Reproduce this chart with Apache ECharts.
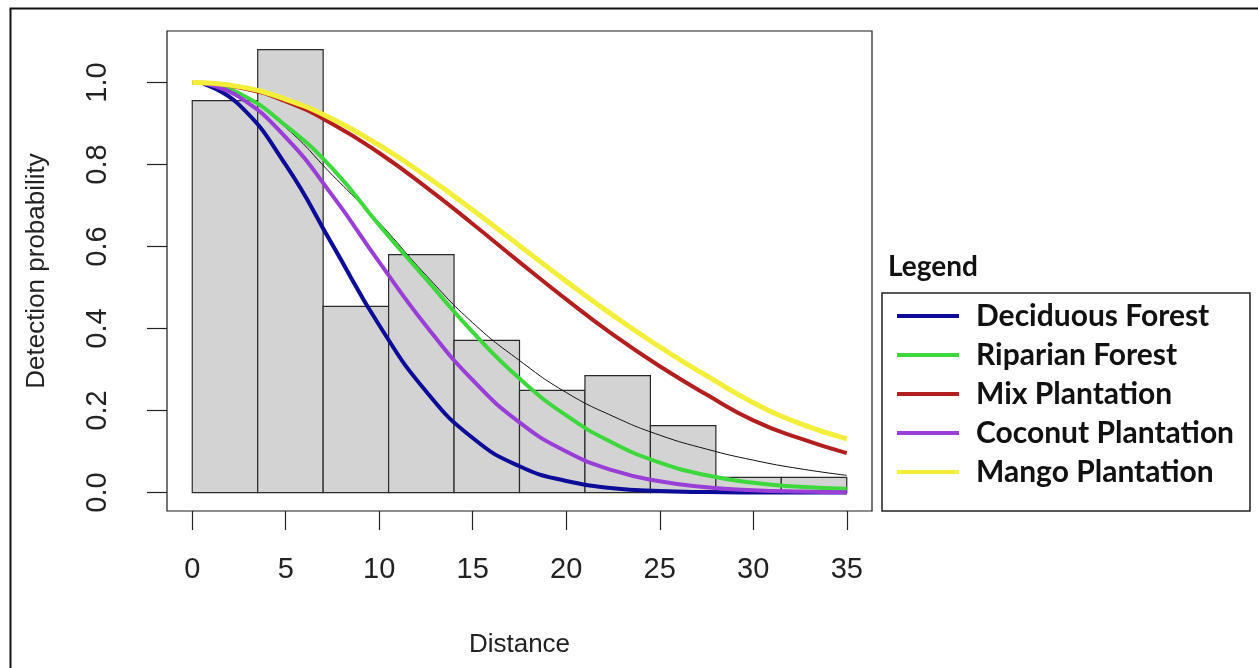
<!DOCTYPE html>
<html>
<head>
<meta charset="utf-8">
<title>Detection probability by distance</title>
<script src="https://cdn.jsdelivr.net/npm/echarts@6.0.0/dist/echarts.min.js"></script>
<style>
  html, body { margin: 0; padding: 0; background: #ffffff; }
  #chart { width: 1258px; height: 668px; }
</style>
</head>
<body>
<div id="chart"></div>
<script>
// Histogram of scaled detections (bin edges and bar heights)
const binEdges = [0, 3.5, 7, 10.5, 14, 17.5, 21, 24.5, 28, 31.5, 35];
const binHeights = [0.956, 1.08, 0.454, 0.58, 0.371, 0.249, 0.285, 0.163, 0.037, 0.037];

// Distances at which the fitted detection functions are listed
const distFromStart = [0.6, 2.5, 5, 7.5, 10, 12.5, 15, 17.5, 20, 22.5, 25, 27.5, 30, 32.5, 35];
const distFromZero = [0, 2.5, 5, 7.5, 10, 12.5, 15, 17.5, 20, 22.5, 25, 27.5, 30, 32.5, 35];

// Pooled fit (thin black line)
const pooledFit = [0.998, 0.972, 0.89, 0.774, 0.658, 0.53, 0.414, 0.322, 0.244, 0.186, 0.14, 0.106, 0.079, 0.058, 0.042];
// Habitat-specific fits
const deciduousForest = [0.997, 0.946, 0.799, 0.604, 0.408, 0.247, 0.133, 0.064, 0.028, 0.0107, 0.0037, 0.0011, 0.0003, 0.0001, 0];
const riparianForest = [0.998, 0.974, 0.895, 0.79, 0.652, 0.521, 0.391, 0.278, 0.188, 0.121, 0.073, 0.042, 0.024, 0.014, 0.009];
const mixPlantation = [1.0, 0.988, 0.954, 0.899, 0.828, 0.745, 0.655, 0.562, 0.471, 0.385, 0.308, 0.239, 0.176, 0.132, 0.096];
const coconutPlantation = [0.998, 0.965, 0.866, 0.724, 0.562, 0.407, 0.274, 0.171, 0.1, 0.054, 0.0275, 0.013, 0.0057, 0.0023, 0.0009];
const mangoPlantation = [1.0, 0.99, 0.959, 0.911, 0.847, 0.772, 0.689, 0.602, 0.515, 0.432, 0.355, 0.285, 0.219, 0.168, 0.131];

const xTicks = [0, 5, 10, 15, 20, 25, 30, 35];
const yTicks = [0, 0.2, 0.4, 0.6, 0.8, 1.0];

const habitatNames = ['Deciduous Forest', 'Riparian Forest', 'Mix Plantation', 'Coconut Plantation', 'Mango Plantation'];
const habitatColors = ['#0c0c98', '#3cd83c', '#b41e1e', '#9a3ed8', '#f2ee3a'];

function pairs(xs, ys) {
  return xs.map((x, i) => [x, ys[i]]);
}

const histData = binHeights.map((h, i) => [binEdges[i], binEdges[i + 1], h]);

const axisFont = 'Liberation Sans, Arial, sans-serif';
const legendFont = 'Lato, "Open Sans", sans-serif';

function curve(name, xs, ys, color, width, z) {
  return {
    type: 'line',
    name: name,
    data: pairs(xs, ys),
    smooth: 0.5,
    showSymbol: false,
    symbol: 'none',
    color: color,
    lineStyle: { color: color, width: width },
    z: z,
    silent: true,
    animation: false
  };
}

const chart = echarts.init(document.getElementById('chart'), null, { renderer: 'canvas' });

chart.setOption({
  backgroundColor: '#ffffff',
  animation: false,
  grid: {
    left: 167, top: 31, width: 705, height: 480,
    show: true, borderColor: '#1a1a1a', borderWidth: 1.2,
    backgroundColor: 'transparent'
  },
  xAxis: {
    type: 'value',
    min: -1.35, max: 36.35,
    name: 'Distance',
    nameLocation: 'middle',
    nameGap: 121,
    nameTextStyle: { fontFamily: axisFont, fontSize: 26, color: '#222' },
    axisLine: { show: false, onZero: false },
    splitLine: { show: false },
    axisTick: {
      show: true, inside: false, length: 19,
      customValues: xTicks,
      lineStyle: { color: '#222', width: 1.2 }
    },
    axisLabel: {
      customValues: xTicks,
      margin: 44,
      fontFamily: axisFont, fontSize: 29, color: '#222'
    }
  },
  yAxis: {
    type: 'value',
    min: -0.045, max: 1.1256,
    name: 'Detection probability',
    nameLocation: 'middle',
    nameRotate: 90,
    nameGap: 117,
    nameTextStyle: { fontFamily: axisFont, fontSize: 26, color: '#222' },
    axisLine: { show: false, onZero: false },
    splitLine: { show: false },
    axisTick: {
      show: true, inside: false, length: 20,
      customValues: yTicks,
      lineStyle: { color: '#222', width: 1.2 }
    },
    axisLabel: {
      customValues: yTicks,
      rotate: 90,
      margin: 55,
      fontFamily: axisFont, fontSize: 29, color: '#222',
      formatter: v => v.toFixed(1)
    }
  },
  legend: {
    data: habitatNames,
    orient: 'vertical',
    left: 897, top: 301,
    padding: 0,
    itemWidth: 62, itemHeight: 4,
    itemGap: 9,
    icon: 'rect',
    selectedMode: false,
    textStyle: {
      fontFamily: legendFont, fontWeight: 'bold', fontSize: 30,
      lineHeight: 30, color: '#111', padding: [0, 0, 0, 12]
    }
  },
  graphic: [
    {
      type: 'rect', silent: true,
      shape: { x: 10.5, y: 8.5, width: 1260, height: 700 },
      style: { fill: 'none', stroke: '#111', lineWidth: 2 }
    },
    {
      type: 'rect', silent: true,
      shape: { x: 882, y: 293, width: 368, height: 218 },
      style: { fill: 'none', stroke: '#222', lineWidth: 1.5 }
    },
    {
      type: 'text', silent: true,
      x: 888, y: 267,
      style: {
        text: 'Legend', fontFamily: legendFont, fontWeight: 'bold',
        fontSize: 28, fill: '#111', textVerticalAlign: 'middle'
      }
    }
  ],
  series: [
    {
      type: 'custom',
      name: 'Histogram',
      data: histData,
      silent: true,
      z: 1,
      renderItem: function (params, api) {
        const p0 = api.coord([api.value(0), api.value(2)]);
        const p1 = api.coord([api.value(1), 0]);
        return {
          type: 'rect',
          shape: { x: p0[0], y: p0[1], width: p1[0] - p0[0], height: p1[1] - p0[1] },
          style: { fill: '#d3d3d3', stroke: '#2a2a2a', lineWidth: 1.2 }
        };
      }
    },
    curve('Pooled fit', distFromStart, pooledFit, '#111111', 1, 2),
    curve(habitatNames[0], distFromStart, deciduousForest, habitatColors[0], 4, 3),
    curve(habitatNames[1], distFromStart, riparianForest, habitatColors[1], 4, 4),
    curve(habitatNames[2], distFromZero, mixPlantation, habitatColors[2], 4, 5),
    curve(habitatNames[3], distFromStart, coconutPlantation, habitatColors[3], 4, 6),
    curve(habitatNames[4], distFromZero, mangoPlantation, habitatColors[4], 5, 7)
  ]
});
</script>
</body>
</html>
